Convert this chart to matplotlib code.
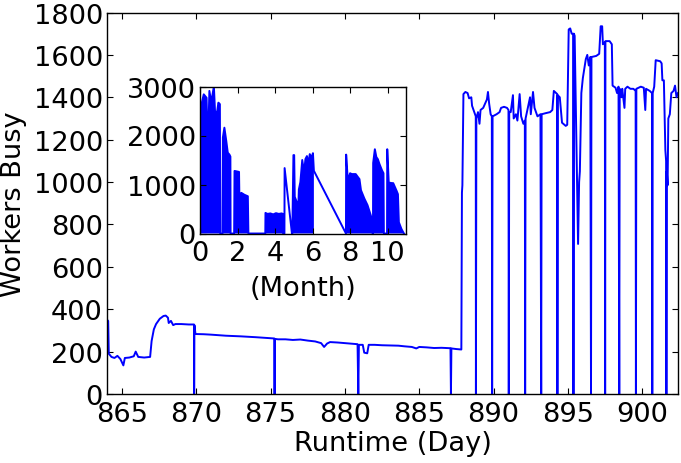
import matplotlib
matplotlib.use("Agg")
import matplotlib.pyplot as plt
import numpy as np

# ---------------- main series (Runtime in days vs workers busy) ----------------
day = [
    864.0, 864.08, 864.12, 864.3, 864.5, 864.7, 864.9, 865.1, 865.2, 865.5,
    865.8, 865.93, 866.1, 866.5, 866.9, 867.0, 867.15, 867.3, 867.55, 867.8,
    867.95, 868.1, 868.15, 868.3, 868.45, 868.6, 869.0, 869.5, 869.85, 869.86,
    869.88, 869.95, 870.5, 871.0, 872.0, 873.0, 874.0, 875.0, 875.25, 875.27,
    875.29, 875.5, 876.0, 876.5, 877.0, 877.5, 878.0, 878.4, 878.6, 878.8,
    879.0, 879.5, 880.0, 880.5, 880.85, 880.9, 880.94, 881.2, 881.3, 881.5,
    881.6, 882.0, 882.5, 883.0, 883.6, 884.0, 884.5, 884.8, 885.0, 885.5,
    886.0, 886.5, 887.1, 887.13, 887.16, 887.5, 887.83, 887.87, 887.9, 887.97,
    888.1, 888.25, 888.35, 888.5, 888.55, 888.7, 888.8, 888.81, 888.84, 888.95,
    889.05, 889.12, 889.3, 889.55, 889.62, 889.7, 889.8, 889.88, 889.9, 889.93,
    890.2, 890.4, 890.5, 890.7, 890.9, 891.0, 891.02, 891.05, 891.15, 891.3,
    891.35, 891.5, 891.6, 891.75, 891.85, 892.0, 892.1, 892.12, 892.15, 892.3,
    892.45, 892.5, 892.65, 892.75, 892.95, 893.15, 893.2, 893.23, 893.5, 893.8,
    893.95, 894.05, 894.2, 894.28, 894.29, 894.31, 894.45, 894.6, 894.85, 894.95,
    895.05, 895.15, 895.25, 895.35, 895.37, 895.4, 895.45, 895.68, 895.75, 895.8,
    895.9, 896.0, 896.2, 896.3, 896.4, 896.5, 896.55, 896.58, 896.9, 897.1,
    897.2, 897.3, 897.35, 897.48, 897.5, 897.52, 897.8, 897.95, 898.0, 898.2,
    898.3, 898.4, 898.45, 898.48, 898.6, 898.65, 898.8, 898.85, 899.0, 899.2,
    899.4, 899.55, 899.57, 899.6, 899.9, 900.1, 900.2, 900.25, 900.5, 900.65,
    900.67, 900.7, 900.8, 900.9, 901.2, 901.3, 901.35, 901.45, 901.55, 901.6,
    901.62, 901.65, 901.7, 901.75, 901.85, 901.95, 902.1, 902.2, 902.3, 902.4,
]
workers = [
    350, 345, 190, 175, 170, 180, 165, 135, 170, 172,
    178, 200, 175, 172, 175, 250, 305, 330, 355, 368,
    370, 360, 335, 345, 325, 330, 330, 328, 328, 0,
    325, 283, 282, 280, 275, 272, 268, 263, 262, 0,
    260, 258, 258, 255, 257, 252, 248, 240, 222, 238,
    245, 243, 240, 237, 235, 0, 232, 232, 195, 192,
    232, 232, 230, 229, 228, 225, 222, 215, 222, 220,
    217, 218, 216, 0, 215, 212, 210, 950, 985, 1415,
    1425, 1420, 1395, 1400, 1360, 1330, 1310, 0, 1300, 1330,
    1275, 1340, 1350, 1390, 1425, 1370, 1320, 1310, 0, 1310,
    1320, 1330, 1350, 1355, 1350, 1340, 0, 1330, 1330, 1410,
    1300, 1320, 1290, 1415, 1310, 1275, 1290, 0, 1300, 1350,
    1400, 1320, 1425, 1350, 1310, 1320, 0, 1320, 1325, 1330,
    1340, 1430, 1420, 1415, 0, 1410, 1400, 1280, 1265, 1270,
    1720, 1725, 1700, 1700, 0, 1700, 1690, 708, 1000, 1050,
    1420, 1490, 1580, 1600, 1550, 1590, 0, 1590, 1595, 1605,
    1735, 1735, 1650, 1660, 0, 1665, 1665, 1650, 1455, 1445,
    1420, 1450, 0, 1440, 1400, 1440, 1350, 1440, 1450, 1440,
    1440, 1430, 0, 1440, 1450, 1445, 1340, 1440, 1430, 1420,
    0, 1420, 1450, 1575, 1570, 1560, 1480, 1480, 1150, 1100,
    0, 1050, 985, 1300, 1320, 1420, 1430, 1455, 1400, 1420,
]

# ---------------- inset series (month vs workers busy, envelope) ----------------
month = [
    0.0, 0.02, 0.08, 0.2, 0.35, 0.42, 0.5, 0.6, 0.74, 0.8, 0.9, 0.98, 1.06, 1.08,
    1.2, 1.22, 1.3, 1.4, 1.48, 1.57, 1.62, 1.63,
    1.82, 1.84, 2.02, 2.08, 2.1, 2.2, 2.37, 2.55, 2.58,
    3.48, 3.49, 3.6, 3.75, 3.9, 4.05, 4.2, 4.35, 4.42, 4.43,
    4.5, 4.51, 4.9,
    4.92, 4.98, 5.02, 5.05, 5.15, 5.22, 5.27, 5.35, 5.45, 5.55, 5.62, 5.7, 5.78,
    5.85, 5.95, 6.02, 6.07,
    7.78, 7.79, 7.88, 8.0, 8.09, 8.3, 8.42, 8.5, 8.58, 8.76, 8.93, 9.1, 9.18, 9.2,
    9.22, 9.23, 9.32, 9.4, 9.48, 9.57, 9.7, 9.78, 9.8,
    9.97, 9.98, 10.06, 10.2, 10.3, 10.48, 10.55, 10.6, 10.74, 10.87,
]
month_workers = [
    700, 2600, 2640, 2840, 2770, 1680, 2910, 2680, 3000, 2500, 2450, 2670, 2640, 0,
    0, 1960, 2160, 1890, 1650, 1610, 1570, 0,
    0, 1277, 1262, 1257, 720, 830, 790, 760, 0,
    0, 420, 400, 410, 390, 415, 400, 410, 400, 0,
    0, 1335, 0,
    0, 1600, 1600, 750, 650, 300, 900, 1050, 1500, 1250, 1520, 1580, 1420,
    1620, 1550, 1640, 1280,
    0, 1610, 1075, 1230, 1213, 1213, 1150, 1110, 884, 714, 578, 374, 272, 0,
    0, 1440, 1720, 1560, 1516, 1414, 1290, 1230, 0,
    0, 1720, 1040, 1030, 1027, 870, 802, 230, 90, 0,
]
# 1 where the trace was dense (oscillating to zero) so the area under it is solid
month_dense = [
    1, 1, 1, 1, 1, 1, 1, 1, 1, 1, 1, 1, 1, 1,
    1, 1, 1, 1, 1, 1, 1, 1,
    1, 1, 1, 1, 1, 1, 1, 1, 1,
    1, 1, 1, 1, 1, 1, 1, 1, 1, 1,
    0, 0, 0,
    1, 1, 1, 1, 1, 1, 1, 1, 1, 1, 1, 1, 1,
    1, 1, 1, 1,
    0, 1, 1, 1, 1, 1, 1, 1, 1, 1, 1, 1, 1, 1,
    1, 1, 1, 1, 1, 1, 1, 1, 1,
    1, 1, 1, 1, 1, 1, 1, 1, 1, 1,
]

main_xticks = [865, 870, 875, 880, 885, 890, 895, 900]
main_yticks = [0, 200, 400, 600, 800, 1000, 1200, 1400, 1600, 1800]
inset_xticks = [0, 2, 4, 6, 8, 10]
inset_yticks = [0, 1000, 2000, 3000]

FS = 19.6
plt.rcParams['font.family'] = ['DejaVu Sans']

fig = plt.figure(figsize=(6.81, 4.64), dpi=100)
W, H = 681.0, 464.0

ax = fig.add_axes([107 / W, 1 - 395 / H, (678 - 107) / W, (395 - 13.5) / H])
ax.plot(day, workers, color='#0000ff', lw=1.4)
ax.set_xlim(864.0, 902.4)
ax.set_ylim(0, 1800)
ax.set_xticks(main_xticks)
ax.set_yticks(main_yticks)
ax.set_xlabel('Runtime (Day)', fontsize=FS, labelpad=2)
ax.set_ylabel('Workers Busy', fontsize=FS, labelpad=5)

ins = fig.add_axes([200 / W, 1 - 234.5 / H, 206 / W, 147 / H])
dense = np.array(month_dense, dtype=bool)
ins.fill_between(month, 0, month_workers, where=dense, color='#0000ff', lw=0,
                 interpolate=False)
ins.plot(month, month_workers, color='#0000ff', lw=1.4)
ins.set_xlim(0, 10.98)
ins.set_ylim(0, 3000)
ins.set_xticks(inset_xticks)
ins.set_yticks(inset_yticks)
ins.set_xlabel('(Month)', fontsize=FS, labelpad=6)

for a in (ax, ins):
    a.tick_params(direction='in', top=True, right=True, labelsize=FS,
                  length=4.5, width=0.8)
    a.tick_params(axis='x', pad=5)
    a.tick_params(axis='y', pad=3)
    for s in a.spines.values():
        s.set_linewidth(1.0)

fig.savefig('out.png', dpi=100)
